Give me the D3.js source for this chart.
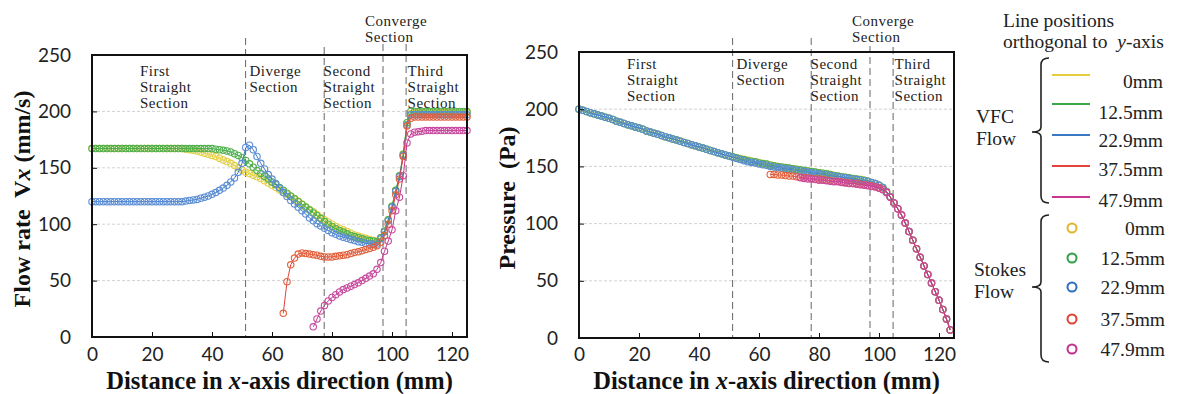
<!DOCTYPE html>
<html>
<head>
<meta charset="utf-8">
<script src="https://cdn.jsdelivr.net/npm/d3@7"></script>
<style>
  body { margin: 0; background: #fff; }
</style>
</head>
<body>
<svg id="chart" width="1182" height="394"></svg>
<script>
// sampling interval of the profiles along x (mm); value i sits at x = i * X_STEP
const X_STEP = 1.25;
const _ = null;

const positions = ['0mm', '12.5mm', '22.9mm', '37.5mm', '47.9mm'];
const xTicks = [0, 20, 40, 60, 80, 100, 120];
const yTicks = [0, 50, 100, 150, 200, 250];
const gridValues = [50, 100, 150, 200];
const sectionBounds = [51.2, 77.4, 97, 104.7];
const sectionNames = [['First', 'Straight', 'Section'], ['Diverge', 'Section'], ['Second', 'Straight', 'Section'], ['Third', 'Straight', 'Section']];
const sectionLabelX = [16, 52.5, 77.2, 105.2];
const convergeName = ['Converge', 'Section'];
const convergeLabelX = 91;

// flow rate Vx (mm/s), VFC lines and Stokes circles coincide at this scale
const vx0 = [
  167, 167, 167, 167, 167, 167, 167, 167, 167, 167,
  167, 167, 167, 167, 167, 167, 167, 167, 167, 167,
  167, 167, 167, 167, 167, 166.5, 166, 165.5, 165, 164,
  163, 162, 161, 160, 158.5, 157, 155.5, 154, 152, 150,
  148, 146, 145, 143.5, 142, 140.5, 138.5, 136.5, 134.5, 132.5,
  130.5, 128.5, 126.5, 124.5, 122.5, 120.5, 118, 115.5, 113, 111,
  108.5, 106, 104, 102, 100, 98, 96.5, 95, 93.5, 92,
  90.5, 89.5, 88.5, 87.5, 86.5, 85.5, 85, 88, 94, 104,
  116, 130, 143, 162, 190, 198, 199, 199, 199, 199,
  199, 199, 199, 199, 199, 199, 199, 199, 199, 199,
  199
];
const vx12 = [
  167, 167, 167, 167, 167, 167, 167, 167, 167, 167,
  167, 167, 167, 167, 167, 167, 167, 167, 167, 167,
  167, 167, 167, 167, 167, 167, 167, 167, 167, 167,
  167, 167, 167, 166.5, 166, 165.5, 165, 164, 162.5, 161,
  159, 156.5, 153.5, 150.5, 147.5, 145, 142.5, 140, 137.5, 135,
  132.5, 130, 127.5, 125, 122.5, 120, 117.5, 115, 112.5, 110,
  107.5, 105, 102.5, 100, 98, 96, 94.5, 93, 91.5, 90,
  89, 88, 87, 86, 85.5, 85, 84.5, 88, 94, 104,
  116, 130, 143, 162, 190, 200, 200, 200, 200, 200,
  200, 200, 200, 200, 200, 200, 200, 200, 200, 200,
  200
];
const vx22 = [
  120, 120, 120, 120, 120, 120, 120, 120, 120, 120,
  120, 120, 120, 120, 120, 120, 120, 120, 120, 120,
  120, 120, 120, 120, 120, 120.5, 121, 121.5, 122, 123,
  124, 125, 126.5, 128, 130, 132, 134.5, 137.5, 141, 146,
  154, 168, 170, 166, 160, 154, 149, 144, 140, 136,
  132, 128, 124.5, 121, 118, 115, 112, 109, 105.5, 103,
  100.5, 98.5, 96.5, 94.5, 92.5, 91, 89.5, 88.5, 87.5, 86.5,
  85.5, 84.5, 84, 83, 82.5, 82, 82.5, 87, 93, 103,
  115, 129, 142, 161, 188, 197, 197, 197, 197, 197,
  197, 197, 197, 197, 197, 197, 197, 197, 197, 197,
  197
];
const vx37 = [
  _, _, _, _, _, _, _, _, _, _,
  _, _, _, _, _, _, _, _, _, _,
  _, _, _, _, _, _, _, _, _, _,
  _, _, _, _, _, _, _, _, _, _,
  _, _, _, _, _, _, _, _, _, _,
  _, 21, 49, 64, 70, 73.5, 74.5, 74, 73.5, 73,
  72.5, 71.5, 71, 71, 71, 71.5, 72, 72.5, 73, 74,
  75, 75.5, 76.5, 77.5, 78.5, 79.5, 81, 84, 90, 100,
  112, 126, 140, 160, 187, 194, 195, 195, 195, 195,
  195, 195, 195, 195, 195, 195, 195, 195, 195, 195,
  195
];
const vx47 = [
  _, _, _, _, _, _, _, _, _, _,
  _, _, _, _, _, _, _, _, _, _,
  _, _, _, _, _, _, _, _, _, _,
  _, _, _, _, _, _, _, _, _, _,
  _, _, _, _, _, _, _, _, _, _,
  _, _, _, _, _, _, _, _, _, 9,
  16, 23, 28, 32, 35, 37.5, 40, 42, 43.5, 45,
  46.5, 48, 50, 52, 54, 56, 60, 66, 76, 85,
  95, 112, 124, 143, 172, 180, 181.5, 182, 182.5, 183,
  183, 183, 183, 183, 183, 183, 183, 183, 183, 183,
  183
];

// pressure (Pa)
const p0 = [
  200, 199, 198, 197, 196, 195, 194, 193, 192, 191,
  189.5, 188.5, 187.5, 186.5, 185.5, 184.5, 183.5, 182.5, 181, 180,
  179, 178, 177, 176, 175, 174, 173, 172, 171, 170,
  169, 168, 167, 166, 165, 164, 163, 162, 161, 160,
  159, 158.5, 157.5, 157, 156, 155.5, 154.5, 154, 153.5, 152.5,
  152, 151.5, 150.5, 150, 149.5, 149, 148.5, 148, 147.5, 147,
  146.5, 146, 145.5, 145, 144.5, 144, 143.5, 143, 142, 141.5,
  141, 140.5, 140, 139.5, 139, 138.5, 138, 137, 136, 135,
  133.5, 131.5, 128, 123.5, 118, 113, 107.5, 100.5, 93, 85.5,
  78, 70.5, 63, 55.5, 48, 40.5, 33, 25, 16.5, 7,
  _
];
const p12 = [
  200, 199, 198, 197, 196, 195, 194, 193, 192, 191,
  189.5, 188.5, 187.5, 186.5, 185.5, 184.5, 183.5, 182.5, 181, 180,
  179, 178, 177, 176, 175, 174, 173, 172, 171, 170,
  169, 168, 167, 166, 165, 164, 163, 162, 161, 160,
  159, 158.5, 157.5, 156.5, 156, 155, 154.5, 154, 153, 152.5,
  152, 151, 150.5, 150, 149.5, 149, 148.5, 148, 147.5, 147,
  146.5, 146, 145.5, 145, 144.5, 144, 143.5, 143, 142, 141.5,
  141, 140.5, 140, 139.5, 139, 138.5, 138, 137, 136, 135,
  133.5, 131.5, 128, 123.5, 118, 113, 107.5, 100.5, 93, 85.5,
  78, 70.5, 63, 55.5, 48, 40.5, 33, 25, 16.5, 7,
  _
];
const p22 = [
  200, 199, 198, 197, 196, 195, 194, 193, 192, 191,
  189.5, 188.5, 187.5, 186.5, 185.5, 184.5, 183.5, 182.5, 181, 180,
  179, 178, 177, 176, 175, 174, 173, 172, 171, 170,
  169, 168, 167, 166, 165, 164, 163, 162, 161, 160,
  159, 158, 157, 156, 155, 154, 153.5, 153, 152, 151.5,
  151, 150, 149.5, 149, 148.5, 148, 147.5, 147, 146.5, 146,
  145.5, 145, 144.5, 144, 143.5, 143, 142.5, 142, 141.5, 141,
  140.5, 140, 139.5, 139, 138.5, 138, 137.5, 137, 136, 135,
  133.5, 131.5, 128, 123.5, 118, 113, 107.5, 100.5, 93, 85.5,
  78, 70.5, 63, 55.5, 48, 40.5, 33, 25, 16.5, 7,
  _
];
const p37 = [
  _, _, _, _, _, _, _, _, _, _,
  _, _, _, _, _, _, _, _, _, _,
  _, _, _, _, _, _, _, _, _, _,
  _, _, _, _, _, _, _, _, _, _,
  _, _, _, _, _, _, _, _, _, _,
  _, 143, 143, 142.5, 142.5, 142, 141.5, 141.5, 141, 140.5,
  140, 140, 139.5, 139, 139, 138.5, 138, 137.5, 137, 137,
  136.5, 136, 135.5, 135, 135, 134.5, 134, 133.5, 133, 132.5,
  131.5, 130, 127.5, 123, 118, 113, 107.5, 100.5, 93, 85.5,
  78, 70.5, 63, 55.5, 48, 40.5, 33, 25, 16.5, 7,
  _
];
const p47 = [
  _, _, _, _, _, _, _, _, _, _,
  _, _, _, _, _, _, _, _, _, _,
  _, _, _, _, _, _, _, _, _, _,
  _, _, _, _, _, _, _, _, _, _,
  _, _, _, _, _, _, _, _, _, _,
  _, _, _, _, _, _, _, _, _, 140,
  139.5, 139, 139, 138.5, 138, 138, 137.5, 137, 136.5, 136.5,
  136, 135.5, 135, 135, 134.5, 134, 133.5, 133, 132.5, 132,
  131, 129.5, 127, 123, 118, 113, 107.5, 100.5, 93, 85.5,
  78, 70.5, 63, 55.5, 48, 40.5, 33, 25, 16.5, 7,
  _
];

const lineColors = ['#e4cf3a', '#3aa84a', '#3b78c4', '#e0443a', '#c8368e'];
const circleColors = ['#e2cf45', '#52b04f', '#5b8dd4', '#e2613c', '#c84a9f'];
const legendCircleColors = ['#e2b42c', '#2fa044', '#2f6fc0', '#e04030', '#c0308e'];

const serif = "'Liberation Serif', 'Times New Roman', serif";
const sans = "Lato, 'Open Sans', sans-serif";

const svg = d3.select('#chart');
svg.append('rect').attr('width', 1182).attr('height', 394).attr('fill', '#fff');

const panels = [
  {left: 92, top: 55, width: 375, height: 282, series: [vx0, vx12, vx22, vx37, vx47],
    yTitle: ['Flow rate  V', 'x', ' (mm/s)'], yTitleX: 22, xPad: 11, secBase: 75.5, boundExt: [17, 8, 11, 11]},
  {left: 579, top: 52, width: 375, height: 286, series: [p0, p12, p22, p37, p47],
    yTitle: ['Pressure  (Pa)', '', ''], yTitleX: 507, xPad: 10, secBase: 69, boundExt: [14, 14, 6, 5]}
];

// stacked lines of small print, one text element per line
function stacked(parent, lines, x, y0, step, size) {
  lines.forEach((s, j) => {
    parent.append('text')
      .attr('x', x).attr('y', y0 + j * step)
      .attr('font-family', serif).attr('font-size', size).attr('fill', '#222')
      .attr('letter-spacing', 0.5)
      .text(s);
  });
}

panels.forEach(p => {
  const x = d3.scaleLinear().domain([0, 125]).range([p.left, p.left + p.width]);
  const y = d3.scaleLinear().domain([0, 250]).range([p.top + p.height, p.top]);
  const g = svg.append('g');

  // light dotted grid
  g.selectAll('.grid').data(gridValues).enter().append('line')
    .attr('x1', x(0)).attr('x2', x(125))
    .attr('y1', d => y(d)).attr('y2', d => y(d))
    .attr('stroke', '#c6c6c6').attr('stroke-width', 0.8).attr('stroke-dasharray', '3,2');

  // section boundaries
  g.selectAll('.bound').data(sectionBounds).enter().append('line')
    .attr('x1', d => x(d)).attr('x2', d => x(d))
    .attr('y1', (d, i) => p.top - p.boundExt[i]).attr('y2', p.top + p.height)
    .attr('stroke', '#666').attr('stroke-width', 1).attr('stroke-dasharray', '7,4');

  // VFC lines + Stokes circles
  const line = d3.line().x(d => x(d[0])).y(d => y(d[1]));
  p.series.forEach((vals, k) => {
    const pts = vals.map((v, i) => [i * X_STEP, v]).filter(d => d[1] !== null);
    g.append('path').datum(pts)
      .attr('d', line)
      .attr('fill', 'none').attr('stroke', lineColors[k]).attr('stroke-width', 1);
    g.selectAll(null).data(pts).enter().append('circle')
      .attr('cx', d => x(d[0])).attr('cy', d => y(d[1])).attr('r', 3.2)
      .attr('fill', 'none').attr('stroke', circleColors[k]).attr('stroke-width', 1.1);
  });

  // frame
  g.append('rect')
    .attr('x', p.left).attr('y', p.top).attr('width', p.width).attr('height', p.height)
    .attr('fill', 'none').attr('stroke', '#111').attr('stroke-width', 2);

  // axes with inward ticks
  const yAxis = g.append('g')
    .attr('transform', `translate(${p.left},0)`)
    .call(d3.axisLeft(y).tickValues(yTicks).tickSize(-5).tickPadding(21));
  const xAxis = g.append('g')
    .attr('transform', `translate(0,${p.top + p.height})`)
    .call(d3.axisBottom(x).tickValues(xTicks).tickSize(-5).tickPadding(p.xPad));
  [yAxis, xAxis].forEach(a => {
    a.select('.domain').remove();
    a.selectAll('line').attr('stroke', '#111');
    a.selectAll('text').attr('font-family', sans).attr('font-size', 19).attr('fill', '#222');
  });

  // axis titles
  const xt = g.append('text')
    .attr('x', p.left + p.width / 2).attr('y', 389)
    .attr('text-anchor', 'middle').attr('font-family', serif).attr('font-weight', 'bold')
    .attr('font-size', 24.5).attr('fill', '#111');
  xt.append('tspan').text('Distance in ');
  xt.append('tspan').attr('font-style', 'italic').text('x');
  xt.append('tspan').text('-axis direction (mm)');

  const yt = g.append('text')
    .attr('transform', `translate(${p.yTitleX},${p.top + p.height / 2 + 3}) rotate(-90)`)
    .attr('dy', '0.35em')
    .attr('text-anchor', 'middle').attr('font-family', serif).attr('font-weight', 'bold')
    .attr('font-size', 24).attr('fill', '#111').attr('xml:space', 'preserve');
  yt.append('tspan').text(p.yTitle[0]);
  if (p.yTitle[1]) yt.append('tspan').attr('font-style', 'italic').text(p.yTitle[1]);
  if (p.yTitle[2]) yt.append('tspan').text(p.yTitle[2]);

  // section labels (set tight, as in the figure)
  sectionNames.forEach((lines, i) => stacked(g, lines, x(sectionLabelX[i]), p.secBase, 16, 15));
  stacked(g, convergeName, x(convergeLabelX), 26, 16, 15);
});

// legend
const lg = svg.append('g').attr('font-family', serif).attr('font-size', 19.5).attr('fill', '#222');
lg.append('text').attr('x', 1003).attr('y', 27).text('Line positions');
const lt = lg.append('text').attr('x', 1003).attr('y', 48).attr('xml:space', 'preserve');
lt.append('tspan').text('orthogonal to  ');
lt.append('tspan').attr('font-style', 'italic').text('y');
lt.append('tspan').text('-axis');

function brace(y0, y1, ym) {
  const bx = 1041;
  return `M${bx + 8},${y0} Q${bx},${y0} ${bx},${y0 + 7} L${bx},${ym - 5} Q${bx},${ym} ${bx - 9},${ym} ` +
    `Q${bx},${ym} ${bx},${ym + 5} L${bx},${y1 - 7} Q${bx},${y1} ${bx + 8},${y1}`;
}
lg.append('path').attr('d', brace(58, 203, 132)).attr('fill', 'none').attr('stroke', '#222').attr('stroke-width', 1.6);
lg.append('path').attr('d', brace(215, 362, 287)).attr('fill', 'none').attr('stroke', '#222').attr('stroke-width', 1.6);

lg.append('text').attr('x', 976).attr('y', 123).text('VFC');
lg.append('text').attr('x', 976).attr('y', 145).text('Flow');
lg.append('text').attr('x', 974).attr('y', 276).text('Stokes');
lg.append('text').attr('x', 974).attr('y', 298).text('Flow');

const vfcLineY = [75, 104, 135, 166, 197];
const vfcTextY = [88, 119, 147, 176, 207];
lg.selectAll('.vfcline').data(positions).enter().append('line')
  .attr('x1', 1052).attr('x2', 1090)
  .attr('y1', (d, i) => vfcLineY[i]).attr('y2', (d, i) => vfcLineY[i])
  .attr('stroke', (d, i) => lineColors[i]).attr('stroke-width', 2);
lg.selectAll('.vfclabel').data(positions).enter().append('text')
  .attr('x', 1163).attr('y', (d, i) => vfcTextY[i]).attr('text-anchor', 'end').text(d => d);

const stokesY = [228, 258, 287, 319, 349];
lg.selectAll('.stokesmark').data(positions).enter().append('circle')
  .attr('cx', 1072).attr('cy', (d, i) => stokesY[i]).attr('r', 4.5)
  .attr('fill', 'none').attr('stroke', (d, i) => legendCircleColors[i]).attr('stroke-width', 2);
lg.selectAll('.stokeslabel').data(positions).enter().append('text')
  .attr('x', 1165).attr('y', (d, i) => stokesY[i] + 7).attr('text-anchor', 'end').text(d => d);
</script>
</body>
</html>
